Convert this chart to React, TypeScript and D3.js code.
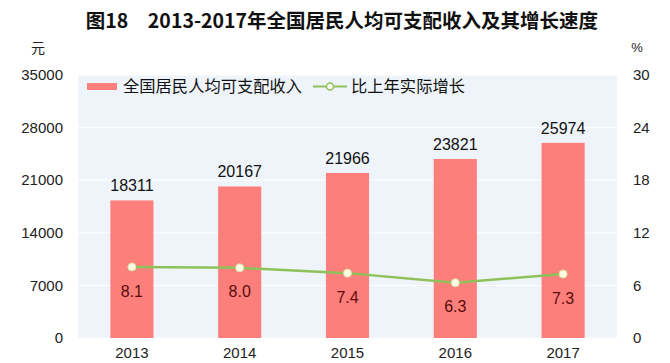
import * as d3 from 'd3'

const years = ['2013', '2014', '2015', '2016', '2017']
const income = [18311, 20167, 21966, 23821, 25974]
const growth = [8.1, 8.0, 7.4, 6.3, 7.3]
const leftTicks = [0, 7000, 14000, 21000, 28000, 35000]
const rightTicks = [0, 6, 12, 18, 24, 30]

const W = 670
const H = 363
const PLOT = { left: 78, right: 617, top: 75, bottom: 338 }
const BAR = '#fd7f7c'
const LINE = '#8fc15a'
const BG = '#eef4fa'
const FONT = '"Liberation Sans", Arial, sans-serif'
const CJK = '"Noto Sans CJK SC", sans-serif'

export default function App() {
  const x = d3.scaleBand().domain(years).range([PLOT.left, PLOT.right]).paddingInner(0.6).paddingOuter(0.3)
  const yL = d3.scaleLinear().domain([0, 35000]).range([PLOT.bottom, PLOT.top])
  const yR = d3.scaleLinear().domain([0, 30]).range([PLOT.bottom, PLOT.top])
  const cx = (y: string) => x(y)! + x.bandwidth() / 2

  const line = d3.line<number>()
    .x((_d, i) => cx(years[i]))
    .y(d => yR(d))

  return (
    <svg width={W} height={H} style={{ position: 'absolute', left: 0, top: 0, background: '#fff' }}>
      <text x={342} y={28} textAnchor="middle" fontFamily={CJK} fontWeight={700} fontSize={19.5} fill="#111">
        图18　2013-2017年全国居民人均可支配收入及其增长速度
      </text>
      <text x={38} y={53} textAnchor="middle" fontFamily={CJK} fontSize={14} fill="#222">元</text>
      <text x={637} y={52} textAnchor="middle" fontFamily={FONT} fontSize={13} fill="#222">%</text>

      <rect x={PLOT.left} y={PLOT.top} width={PLOT.right - PLOT.left} height={PLOT.bottom - PLOT.top} fill={BG} />
      {leftTicks.map(t => (
        <g key={t}>
          <line x1={PLOT.left} x2={PLOT.right} y1={yL(t)} y2={yL(t)} stroke="#fff" strokeWidth={1} />
          <text x={63} y={yL(t)} dy="0.35em" textAnchor="end" fontFamily={FONT} fontSize={15} fill="#222">{t}</text>
        </g>
      ))}
      {rightTicks.map(t => (
        <text key={t} x={633} y={yR(t)} dy="0.35em" fontFamily={FONT} fontSize={15} fill="#222">{t}</text>
      ))}

      {years.map((yr, i) => (
        <g key={yr}>
          <rect x={x(yr)} y={yL(income[i])} width={x.bandwidth()} height={PLOT.bottom - yL(income[i])} fill={BAR} />
          <text x={cx(yr)} y={yL(income[i]) - 9} textAnchor="middle" fontFamily={FONT} fontSize={16} fill="#111">{income[i]}</text>
          <text x={cx(yr)} y={353} dy="0.35em" textAnchor="middle" fontFamily={FONT} fontSize={15} fill="#222">{yr}</text>
          <text x={cx(yr)} y={yR(growth[i]) + 24} dy="0.35em" textAnchor="middle" fontFamily={FONT} fontSize={16} fill="#5a0c0c">
            {growth[i].toFixed(1)}
          </text>
        </g>
      ))}

      <path d={line(growth)!} fill="none" stroke={LINE} strokeWidth={2.5} />
      {growth.map((g, i) => (
        <circle key={i} cx={cx(years[i])} cy={yR(g)} r={4} fill="#fffbe6" stroke="#d8e4a0" strokeWidth={1} />
      ))}

      {/* legend */}
      <rect x={87} y={83} width={30} height={7} fill={BAR} />
      <text x={123} y={86.5} dy="0.35em" fontFamily={CJK} fontSize={16.3} fill="#111">全国居民人均可支配收入</text>
      <line x1={313} x2={347} y1={86.5} y2={86.5} stroke={LINE} strokeWidth={2} />
      <circle cx={330} cy={86.5} r={3.5} fill="#fff" stroke={LINE} strokeWidth={1.5} />
      <text x={351} y={86.5} dy="0.35em" fontFamily={CJK} fontSize={16.3} fill="#111">比上年实际增长</text>
    </svg>
  )
}
